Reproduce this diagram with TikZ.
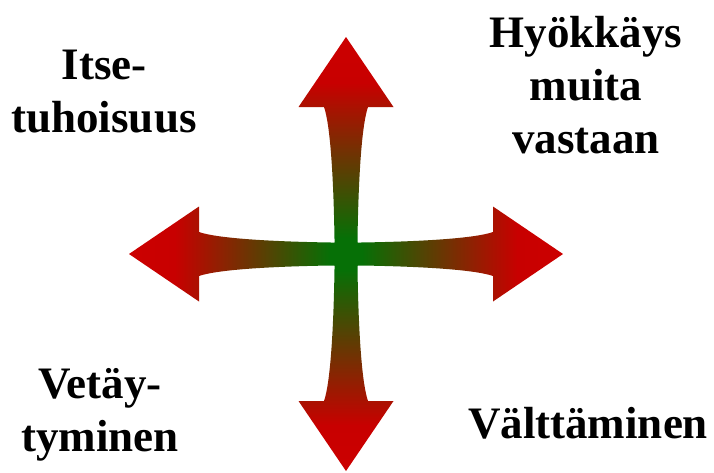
\documentclass[tikz,border=0pt]{standalone}
\usepackage{fontspec}
\setmainfont{Liberation Serif}[BoldFont={Liberation Serif Bold}]
\usepackage{xcolor}
\usepackage{tikz}
\definecolor{armgreen}{RGB}{6,112,6}
\definecolor{armred}{RGB}{200,0,0}
\definecolor{armtip}{RGB}{212,0,0}
\pgfdeclarehorizontalshading{armshade}{100bp}{color(0bp)=(armgreen); color(31bp)=(armgreen); color(65bp)=(armred); color(100bp)=(armtip)}

\begin{document}
\begin{tikzpicture}[x=1pt, y=-1pt,
        lbl/.style={font=\rmfamily\fontsize{45}{53}\selectfont\bfseries, align=center, inner sep=0pt},
        arm/.style={shading=armshade, shading angle=#1, shift={(c)}, rotate=#1}]
    \useasboundingbox (0,0) rectangle (714,472);
    \coordinate (c) at (346,254);

    \foreach \a in {0,90,180,270}
        \shade[arm=\a] (-11.5,-11.5) -- (15,-11.5) .. controls (80,-12.5) and (130,-16) .. (147,-22)
            -- (147,-47.5) -- (217,0) -- (147,47.5) -- (147,22)
            .. controls (130,16) and (80,12.5) .. (15,11.5) -- (-11.5,11.5) -- cycle;

    \node[lbl, anchor=north] (S) at (104,50) {Itse-\\tuhoisuus};
    \node[lbl, anchor=north] (H) at (586,16) {Hyökkäys\\muita\\vastaan};
    \node[lbl, anchor=north] (V) at (100,368) {Vetäy-\\tyminen};
    \node[lbl, anchor=base] (A) at (588,438) {Välttäminen};
\end{tikzpicture}
\end{document}
